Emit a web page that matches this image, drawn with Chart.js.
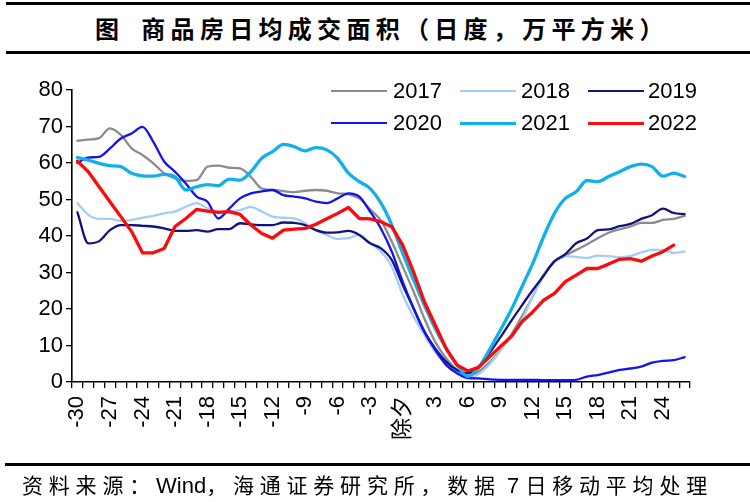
<!DOCTYPE html>
<html>
<head>
<meta charset="utf-8">
<script src="https://cdn.jsdelivr.net/npm/chart.js@4.4.1/dist/chart.umd.min.js"></script>
<style>
  html,body{margin:0;padding:0;background:#fff;}
  #wrap{position:relative;width:750px;height:502px;overflow:hidden;background:#fff;}
  #c{position:absolute;left:0;top:0;}
  .rule{position:absolute;left:6px;right:0;height:2.5px;background:#000;}
  #title{position:absolute;left:95px;top:14px;height:28px;line-height:28px;white-space:nowrap;
         font-family:"Noto Sans CJK SC";font-weight:700;font-size:24px;color:#000;}
  #title .cj{letter-spacing:5.3px;}
  #source{position:absolute;left:22px;top:470px;height:28px;line-height:28px;white-space:nowrap;
          font-family:"Noto Sans CJK SC";font-size:21px;color:#000;}
  #source .cj{letter-spacing:5.8px;}
  #source .lt{font-family:"Liberation Sans";font-size:22px;}
  .lg-line{position:absolute;height:2.5px;}
  .lg-text{position:absolute;font-family:"Liberation Sans";font-size:22px;line-height:24px;height:24px;color:#000;white-space:nowrap;}
</style>
</head>
<body>
<div id="wrap">
  <div class="rule" style="top:2px"></div>
  <div id="title"><span class="cj">图</span><span class="cj" style="margin-left:17px">商品房日均成交面积（日度，万平方米）</span></div>
  <div class="rule" style="top:51px"></div>
  <canvas id="c" width="750" height="502"></canvas>
  <div id="legend"></div>
  <div class="rule" style="top:463px;left:5px"></div>
  <div id="source"><span class="cj">资料来源：</span><span class="lt">Wind</span><span class="cj">，海通证券研究所，数据</span><span class="lt"> 7 </span><span class="cj">日移动平均处理</span></div>
</div>
<script>
// categories: days relative to Chinese New Year's Eve (除夕)
const categories = ['-30','-29','-28','-27','-26','-25','-24','-23','-22','-21','-20','-19','-18','-17','-16',
  '-15','-14','-13','-12','-11','-10','-9','-8','-7','-6','-5','-4','-3','-2','-1','除夕',
  '1','2','3','4','5','6','7','8','9','10','11','12','13','14','15','16','17','18','19','20',
  '21','22','23','24','25','26'];
const labelStep = 3;
const eveLabel = '除夕';

const yTicks = { min: 0, max: 80, step: 10 };

const seriesNames = ['2017','2018','2019','2020','2021','2022'];

const s2017 = [66.1,66.4,66.8,69.5,67.7,64.0,62.2,59.9,57.2,55.8,55.1,55.3,59.0,59.3,58.7,
  58.5,56.2,53.0,52.6,52.3,52.0,52.4,52.6,52.4,51.7,51.4,50.3,47.3,44.2,
  38.4,31.6,24.8,17.4,11.0,6.5,3.3,1.5,
  2.8,5.3,8.8,13.0,18.0,23.5,29.4,33.0,34.6,36.2,37.7,39.4,40.9,41.8,42.6,43.6,43.6,44.4,44.7,45.5];

const s2018 = [49.0,45.8,44.7,44.7,44.1,44.4,45.0,45.5,46.2,46.7,48.0,49.0,47.6,46.7,46.7,
  47.1,48.0,46.7,45.3,45.0,44.8,43.5,41.6,40.3,39.2,39.4,40.3,38.0,35.7,
  31.6,23.9,17.9,12.9,8.3,5.1,2.8,1.2,
  2.2,4.8,8.5,12.8,17.0,23.5,29.0,33.0,34.5,34.3,34.0,34.6,34.5,34.2,34.5,35.5,36.2,36.2,35.4,35.7];

const s2019 = [46.5,38.0,38.6,41.6,43.0,43.0,42.8,42.6,42.1,41.4,41.4,41.6,41.2,41.9,41.9,
  43.5,43.2,43.0,43.0,43.7,43.6,43.0,41.6,40.9,41.0,41.4,40.3,38.0,36.6,
  33.4,26.6,20.2,13.8,9.2,5.6,3.3,2.4,
  4.2,7.9,12.2,16.7,21.0,25.2,29.1,33.1,35.0,38.0,39.3,41.6,41.8,42.7,43.3,44.7,45.7,47.5,46.3,46.0];

const s2020 = [60.0,61.5,61.7,64.0,66.7,68.1,69.9,65.8,60.4,57.6,54.4,50.8,49.4,44.8,47.5,
  50.3,51.7,52.2,52.6,51.2,50.8,50.3,49.4,49.0,50.3,51.7,50.8,46.7,42.0,
  35.7,27.5,20.2,13.8,8.8,4.7,2.4,1.1,
  1.0,0.7,0.6,0.6,0.6,0.6,0.5,0.5,0.5,0.6,1.5,1.9,2.6,3.3,3.7,4.2,5.3,5.8,6.0,6.8];

const s2021 = [61.5,60.8,59.9,59.3,59.0,57.2,56.5,56.4,56.9,56.2,52.6,53.5,54.1,53.8,55.6,
  55.3,57.6,61.3,63.1,65.1,64.5,63.3,64.2,63.6,61.3,57.2,54.9,53.0,49.0,
  43.0,35.3,28.0,21.1,14.7,9.2,4.7,1.5,
  4.0,8.8,14.2,19.7,26.1,32.5,39.8,46.2,50.3,52.1,55.2,54.9,56.3,57.6,59.0,59.7,59.0,56.4,57.2,56.3];

const s2022 = [60.5,57.6,53.5,49.4,45.3,41.2,35.4,35.4,36.6,42.6,44.8,47.3,46.8,46.5,46.7,
  45.9,43.0,40.7,39.4,41.6,41.9,42.1,43.2,44.7,46.2,47.8,44.8,44.7,43.9,
  42.5,37.5,30.2,22.0,15.6,9.2,4.7,3.0,
  4.0,6.9,9.7,12.4,16.5,19.2,22.4,24.3,27.5,29.3,31.1,31.1,32.3,33.6,33.8,33.1,34.5,35.7,37.5,null];

const colors = ['#8c8c8c','#a3cdf5','#13137f','#1212f2','#10b0ec','#ff0a0a'];
const widths = [2.3,2.3,2.3,2.3,3.3,3.3];
const smooth = [true,true,true,true,true,false];
const seriesData = [s2017,s2018,s2019,s2020,s2021,s2022];

const datasets = seriesNames.map((name, i) => ({
  label: name,
  data: seriesData[i],
  borderColor: colors[i],
  backgroundColor: colors[i],
  borderWidth: widths[i],
  pointRadius: 0,
  fill: false,
  tension: smooth[i] ? 0.4 : 0,
  cubicInterpolationMode: smooth[i] ? 'monotone' : 'default',
  order: seriesNames.length - i,
  borderJoinStyle: 'round',
  borderCapStyle: 'round',
  spanGaps: false
}));

// HTML legend (2 rows x 3 columns)
const lgCols = [[331,393],[460,521],[588,648]];
const lgRows = [91,123];
const lg = document.getElementById('legend');
seriesNames.forEach((name, i) => {
  const r = Math.floor(i / 3), c = i % 3;
  const ln = document.createElement('div');
  ln.className = 'lg-line';
  ln.style.left = lgCols[c][0] + 'px';
  ln.style.width = '56px';
  ln.style.top = (lgRows[r] - 1.25) + 'px';
  ln.style.background = colors[i];
  if (widths[i] > 3) { ln.style.height = '3px'; ln.style.top = (lgRows[r] - 1.5) + 'px'; }
  lg.appendChild(ln);
  const tx = document.createElement('div');
  tx.className = 'lg-text';
  tx.style.left = lgCols[c][1] + 'px';
  tx.style.top = (lgRows[r] - 12) + 'px';
  tx.textContent = name;
  lg.appendChild(tx);
});

const eveIndex = categories.indexOf(eveLabel);

new Chart(document.getElementById('c').getContext('2d'), {
  type: 'line',
  data: { labels: categories, datasets },
  options: {
    responsive: false,
    animation: false,
    layout: { padding: { top: 90, right: 60, left: 0, bottom: 0 } },
    plugins: { legend: { display: false }, tooltip: { enabled: false }, title: { display: false } },
    scales: {
      x: {
        type: 'category',
        offset: true,
        grid: { display: true, drawOnChartArea: false, offset: true, color: '#000', lineWidth: 1.3, tickLength: 6 },
        border: { display: true, color: '#000', width: 1.6 },
        ticks: {
          autoSkip: false, maxRotation: 90, minRotation: 90, padding: 8, color: '#000',
          font: { family: "'Liberation Sans', 'Noto Sans CJK SC', sans-serif", size: 22 },
          callback: (v, i) => (i % labelStep === 0 ? categories[i] : '')
        },
        afterFit: (s) => { s.height = 120; }
      },
      y: {
        min: yTicks.min, max: yTicks.max,
        grid: { display: true, drawOnChartArea: false, color: '#000', lineWidth: 1.3, tickLength: 6 },
        border: { display: true, color: '#000', width: 1.6 },
        ticks: { stepSize: yTicks.step, color: '#000', font: { family: "'Liberation Sans', sans-serif", size: 22 }, padding: 3 },
        afterFit: (s) => { s.width = 72; }
      }
    }
  }
});
</script>
</body>
</html>
